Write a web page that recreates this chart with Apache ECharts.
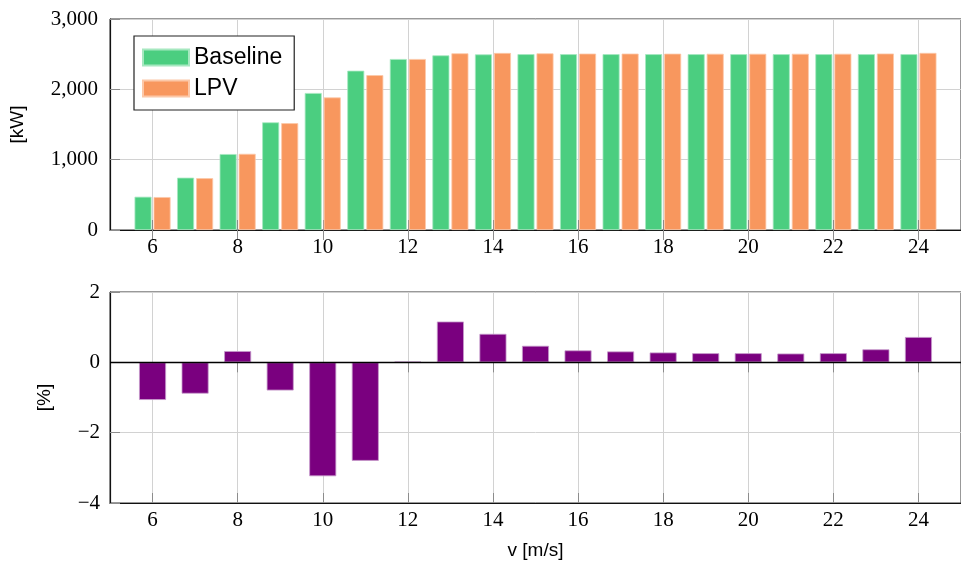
<!DOCTYPE html>
<html>
<head>
<meta charset="utf-8">
<script src="https://cdn.jsdelivr.net/npm/echarts@6/dist/echarts.min.js"></script>
<style>
html,body{margin:0;padding:0;background:#fff;}
#chart{width:961px;height:565px;}
</style>
</head>
<body>
<div id="chart"></div>
<script>
// ---- data ----
const speeds = [6, 7, 8, 9, 10, 11, 12, 13, 14, 15, 16, 17, 18, 19, 20, 21, 22, 23, 24];
const baseline = [473, 744, 1080, 1531, 1948, 2265, 2431, 2483, 2497, 2500, 2500, 2500, 2500, 2500, 2500, 2500, 2500, 2500, 2500];
const lpv = [468, 737, 1083, 1519, 1885, 2202, 2431, 2512, 2517, 2512, 2508, 2508, 2507, 2506, 2506, 2506, 2506, 2509, 2518];
const diffPct = [-1.07, -0.89, 0.32, -0.80, -3.24, -2.80, 0.02, 1.16, 0.81, 0.47, 0.34, 0.31, 0.28, 0.26, 0.26, 0.25, 0.26, 0.37, 0.72];
const xTicks = [6, 8, 10, 12, 14, 16, 18, 20, 22, 24];
const seriesNames = ['Baseline', 'LPV'];
const xName = 'v [m/s]';
const yTopName = '[kW]';
const yBottomName = '[%]';

const serif = "'Liberation Serif', 'Times New Roman', serif";
const sans = "'Liberation Sans', Arial, sans-serif";
const gridColor = '#d2d2d2';
const tickColor = '#8c8c8c';

function fmtThousands(v) {
  return String(v).replace(/\B(?=(\d{3})+(?!\d))/g, ',');
}
function fmtMinus(v) {
  return v < 0 ? '\u2212' + Math.abs(v) : String(v);
}

const grids = [
  {left: 110, right: -10, top: 19, height: 211, show: true, borderColor: '#333', borderWidth: 1, backgroundColor: 'transparent'},
  {left: 110, right: -10, top: 292, height: 211, show: true, borderColor: '#333', borderWidth: 1, backgroundColor: 'transparent'}
];

function xAxisBottom(gridIndex, withName) {
  return {
    type: 'value', gridIndex: gridIndex, min: 5, max: 25, position: 'bottom',
    name: withName ? xName : '', nameLocation: 'middle', nameGap: 38,
    nameTextStyle: {fontFamily: sans, fontSize: 19, color: '#000'},
    axisLine: {show: true, onZero: false, lineStyle: {color: '#111', width: 1.2}},
    axisTick: {show: true, inside: true, length: 10, customValues: xTicks, lineStyle: {color: tickColor, width: 1}},
    axisLabel: {show: true, customValues: xTicks, margin: 7, fontFamily: serif, fontSize: 21, color: '#000'},
    splitLine: {show: true, lineStyle: {color: gridColor, width: 1}}
  };
}
function xAxisTop(gridIndex) {
  return {
    type: 'value', gridIndex: gridIndex, min: 5, max: 25, position: 'top',
    axisLine: {show: false},
    axisTick: {show: true, inside: true, length: 10, customValues: xTicks, lineStyle: {color: tickColor, width: 1}},
    axisLabel: {show: false},
    splitLine: {show: false}
  };
}

const option = {
  animation: false,
  backgroundColor: '#fff',
  grid: grids,
  legend: {
    data: seriesNames,
    orient: 'vertical',
    left: 134, top: 36,
    padding: [10, 12, 10, 8],
    itemWidth: 46, itemHeight: 16, itemGap: 8,
    icon: 'rect',
    backgroundColor: '#fff',
    borderColor: '#222', borderWidth: 1.2,
    textStyle: {fontFamily: sans, fontSize: 23, color: '#000'}
  },
  xAxis: [xAxisBottom(0, false), xAxisTop(0), xAxisBottom(1, true), xAxisTop(1)],
  yAxis: [
    {
      type: 'value', gridIndex: 0, min: 0, max: 3000, interval: 1000,
      name: yTopName, nameLocation: 'middle', nameGap: 83, nameRotate: 90,
      nameTextStyle: {fontFamily: sans, fontSize: 19, color: '#000'},
      axisLine: {show: true, lineStyle: {color: '#111', width: 1.2}},
      axisTick: {show: true, inside: true, length: 10, lineStyle: {color: tickColor, width: 1}},
      axisLabel: {margin: 12, fontFamily: serif, fontSize: 21, color: '#000', formatter: fmtThousands},
      splitLine: {show: true, lineStyle: {color: gridColor, width: 1}}
    },
    {
      type: 'value', gridIndex: 1, min: -4, max: 2, interval: 2,
      name: yBottomName, nameLocation: 'middle', nameGap: 56, nameRotate: 90,
      nameTextStyle: {fontFamily: sans, fontSize: 19, color: '#000'},
      axisLine: {show: true, onZero: false, lineStyle: {color: '#111', width: 1.2}},
      axisTick: {show: true, inside: true, length: 10, lineStyle: {color: tickColor, width: 1}},
      axisLabel: {margin: 10, fontFamily: serif, fontSize: 21, color: '#000', formatter: fmtMinus},
      splitLine: {show: true, lineStyle: {color: gridColor, width: 1}}
    }
  ],
  series: [
    {
      name: seriesNames[0], type: 'bar', xAxisIndex: 0, yAxisIndex: 0,
      barWidth: 17, barGap: '12%',
      itemStyle: {color: '#4bce80', borderColor: '#a6e8c0', borderWidth: 0.8},
      data: speeds.map((s, i) => [s, baseline[i]])
    },
    {
      name: seriesNames[1], type: 'bar', xAxisIndex: 0, yAxisIndex: 0,
      barWidth: 17, barGap: '12%',
      itemStyle: {color: '#f8975e', borderColor: '#fcc8a8', borderWidth: 0.8},
      data: speeds.map((s, i) => [s, lpv[i]])
    },
    {
      name: 'diff', type: 'bar', xAxisIndex: 2, yAxisIndex: 1,
      barWidth: 27,
      itemStyle: {color: '#7a007f', borderColor: '#c79bcb', borderWidth: 0.8},
      data: speeds.map((s, i) => [s, diffPct[i]]),
      markLine: {
        silent: true, symbol: 'none', label: {show: false},
        lineStyle: {color: '#000', type: 'solid', width: 1.3},
        data: [{yAxis: 0}]
      }
    }
  ]
};

const chart = echarts.init(document.getElementById('chart'), null, {renderer: 'canvas'});
chart.setOption(option);
</script>
</body>
</html>
